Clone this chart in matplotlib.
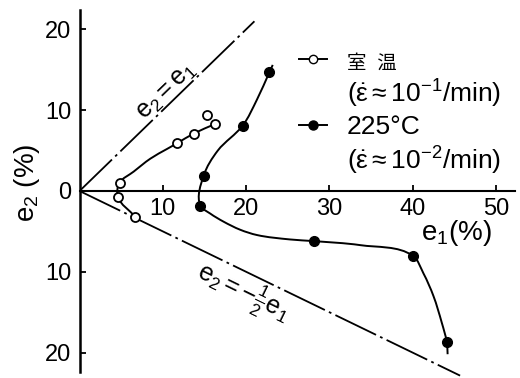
import numpy as np
import matplotlib

matplotlib.use("Agg")
import matplotlib.pyplot as plt
from matplotlib.path import Path
from matplotlib.patches import PathPatch
from matplotlib.lines import Line2D
from matplotlib.ticker import FuncFormatter

plt.rcParams["font.family"] = ["Liberation Sans", "Noto Sans CJK JP", "DejaVu Sans"]
plt.rcParams["mathtext.fontset"] = "custom"
plt.rcParams["mathtext.rm"] = "Liberation Sans"
plt.rcParams["mathtext.it"] = "Liberation Sans"
plt.rcParams["mathtext.bf"] = "Liberation Sans:bold"

# 室温 (open circles): measured points
room_e1 = [6.7, 4.6, 4.8, 11.7, 13.7, 16.3, 15.3]
room_e2 = [-3.2, -0.7, 1.0, 5.9, 7.1, 8.3, 9.4]
# traced course of the hand-drawn curve through them
room_curve_e1 = [6.7, 4.6, 4.8, 6.5, 8.5, 10.5, 11.7, 13.7, 16.3]
room_curve_e2 = [-3.2, -0.7, 1.0, 2.4, 4.0, 5.2, 5.9, 7.1, 8.3]

# 225°C (filled circles): measured points
hot_e1 = [22.8, 19.6, 14.9, 14.5, 28.1, 40.0, 44.1]
hot_e2 = [14.7, 8.1, 1.9, -1.8, -6.2, -8.0, -18.7]
# traced course of the curve
hot_curve_e1 = [23.2, 22.8, 21.3, 19.6, 16.6, 14.9, 14.5, 15.7, 17.3, 19.3,
                21.3, 25.3, 28.1, 33.7, 40.0, 41.3, 42.5, 43.5, 44.1, 44.2]
hot_curve_e2 = [15.6, 14.7, 11.3, 8.1, 5.0, 1.9, -1.8, -2.8, -3.8, -4.8,
                -5.45, -6.0, -6.2, -6.7, -8.0, -10.2, -13.0, -16.3, -18.7, -20.2]

x_ticks = [10, 20, 30, 40, 50]
y_ticks = [-20, -10, 0, 10, 20]
equal_line_e1 = [0, 21]
half_line_e1 = [0, 45.7]

legend_labels = [
    "室  温",
    r"($\dot{\varepsilon}\approx10^{-1}$/min)",
    "225°C",
    r"($\dot{\varepsilon}\approx10^{-2}$/min)",
]


def smooth_path(xs, ys):
    # 用Bezier曲线平滑连接各点，切线取相邻两段方向的角平分线。
    pts = np.column_stack([xs, ys]).astype(float)
    n = len(pts)
    tangents = []
    for i in range(n):
        d = np.zeros(2)
        if i > 0:
            seg = pts[i] - pts[i - 1]
            d += seg / np.linalg.norm(seg)
        if i < n - 1:
            seg = pts[i + 1] - pts[i]
            d += seg / np.linalg.norm(seg)
        tangents.append(d / np.linalg.norm(d))
    verts = [pts[0]]
    codes = [Path.MOVETO]
    for i in range(n - 1):
        length = np.linalg.norm(pts[i + 1] - pts[i]) / 3
        verts += [pts[i] + tangents[i] * length, pts[i + 1] - tangents[i + 1] * length, pts[i + 1]]
        codes += [Path.CURVE4] * 3
    return Path(verts, codes)


figure = plt.figure(figsize=(5.2, 3.78), dpi=100)
axis = figure.add_axes([0.153, 0.0159, 0.8375, 0.9577])
axis.set_xlim(0, 52.3)
axis.set_ylim(-22.4, 22.4)

dash_dot = (0, (25, 2.5, 1.5, 2.5))
axis.plot(equal_line_e1, equal_line_e1, color="black", lw=1.3, linestyle=dash_dot)
axis.plot(half_line_e1, [-v / 2 for v in half_line_e1], color="black", lw=1.3,
          linestyle=dash_dot, clip_on=False)

axis.add_patch(PathPatch(smooth_path(room_curve_e1, room_curve_e2), fill=False,
                         lw=1.4, color="black"))
axis.add_patch(PathPatch(smooth_path(hot_curve_e1, hot_curve_e2), fill=False,
                         lw=1.4, color="black"))
axis.plot(room_e1, room_e2, "o", ms=6.5, mfc="white", mec="black", mew=1.3, zorder=3)
axis.plot(hot_e1, hot_e2, "o", ms=7, color="black", zorder=3)

axis.spines["top"].set_visible(False)
axis.spines["right"].set_visible(False)
axis.spines["bottom"].set_position(("data", 0))
axis.spines["left"].set_linewidth(1.8)
axis.spines["bottom"].set_linewidth(1.5)

axis.set_xticks(x_ticks)
axis.set_yticks(y_ticks)
axis.yaxis.set_major_formatter(FuncFormatter(lambda v, pos: f"{abs(v):.0f}"))
axis.tick_params(axis="both", direction="in", length=4, width=1.3, labelsize=17)
axis.tick_params(axis="x", pad=5)
axis.tick_params(axis="y", pad=6)

axis.text(-0.12, 0.522, r"$\mathregular{e_2}$ (%)", transform=axis.transAxes,
          rotation=90, ha="center", va="center", fontsize=20)
axis.text(45.2, -5.2, r"$\mathregular{e_1}$(%)", ha="center", va="center", fontsize=20)
axis.text(10.5, 12.4, r"$\mathregular{e_2=e_1}$", rotation=44, ha="center",
          va="center", fontsize=18, rotation_mode="anchor")
axis.text(19.6, -12.6, r"$\mathregular{e_2=-\frac{1}{2}e_1}$", rotation=-26,
          ha="center", va="center", fontsize=18, rotation_mode="anchor")

handles = [
    Line2D([], [], color="black", lw=1.4, marker="o", ms=6, mfc="white", mec="black"),
    Line2D([], [], linestyle="none"),
    Line2D([], [], color="black", lw=1.4, marker="o", ms=6.5),
    Line2D([], [], linestyle="none"),
]
legend = axis.legend(handles, legend_labels, loc="upper left", bbox_to_anchor=(0.505, 0.89),
                     frameon=False, fontsize=19, handlelength=1.05, handletextpad=0.75,
                     labelspacing=0.2, borderpad=0, borderaxespad=0)
legend.get_texts()[0].set_fontsize(14)

figure.savefig("out.png", dpi=100)
plt.close(figure)
